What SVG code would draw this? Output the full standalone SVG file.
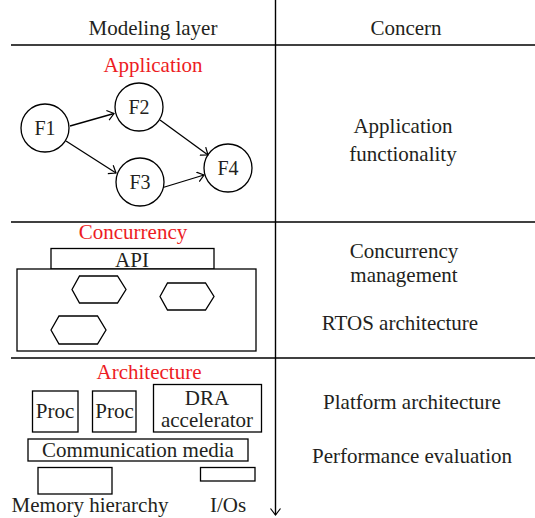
<svg xmlns="http://www.w3.org/2000/svg" width="535" height="518" viewBox="0 0 535 518">
  <defs>
    <marker id="vee" markerUnits="userSpaceOnUse" markerWidth="10" markerHeight="12" refX="7" refY="5.5" orient="auto">
      <path d="M0.5,0.5 L7,5.5 L0.5,10.5" fill="none" stroke="#000" stroke-width="1.2"/>
    </marker>
  </defs>
  <style>
    text { font-size: 21px; fill: #231f20; text-anchor: middle; }
    .title { fill: #ed1c24; }
    .rule { stroke: #000; stroke-width: 1.4; fill: none; }
    .shape { stroke: #000; stroke-width: 1.3; fill: #fff; }
    .fn { font-size: 20px; }
    .edge { stroke: #000; stroke-width: 1.3; fill: none; marker-end: url(#vee); }
  </style>

  <rect width="535" height="518" fill="#fff"/>

  <g font-family="Liberation Serif, serif">
  <!-- table frame: header, row separators and the downward axis -->
  <g id="table">
    <line class="rule" x1="11" y1="45" x2="535" y2="45"/>
    <line class="rule" x1="11" y1="222" x2="535" y2="222"/>
    <line class="rule" x1="11" y1="358" x2="535" y2="358"/>
    <line class="rule" x1="275.5" y1="0" x2="275.5" y2="515" marker-end="url(#vee)"/>
    <text x="153" y="35">Modeling layer</text>
    <text x="406" y="35">Concern</text>
  </g>

  <!-- application layer -->
  <g id="application">
    <text class="title" x="153" y="72">Application</text>
    <g id="f1"><circle class="shape" cx="45" cy="128" r="24"/><text class="fn" x="45" y="135">F1</text></g>
    <g id="f2"><circle class="shape" cx="139" cy="107" r="24"/><text class="fn" x="139" y="114">F2</text></g>
    <g id="f3"><circle class="shape" cx="140" cy="182" r="24"/><text class="fn" x="140" y="189">F3</text></g>
    <g id="f4"><circle class="shape" cx="228" cy="168" r="24"/><text class="fn" x="228" y="175">F4</text></g>
  </g>

  <g id="connectors">
    <line class="edge" x1="70" y1="126" x2="114" y2="113.5"/>
    <line class="edge" x1="66" y1="141" x2="116" y2="173"/>
    <line class="edge" x1="160" y1="120" x2="208" y2="155"/>
    <line class="edge" x1="163" y1="187.5" x2="204" y2="175"/>
  </g>

  <!-- concurrency layer -->
  <g id="concurrency">
    <text class="title" x="133" y="239">Concurrency</text>
    <g id="api">
      <rect class="shape" x="51" y="248.5" width="163" height="20.5"/>
      <text x="132" y="267">API</text>
    </g>
    <g id="rtos">
      <rect class="shape" x="17" y="269" width="239" height="82"/>
      <polygon class="shape" points="72,289.5 79.5,276 117.5,276 126,289.5 117.5,303 79.5,303"/>
      <polygon class="shape" points="160,296.5 167.5,283 205.5,283 214,296.5 205.5,310 167.5,310"/>
      <polygon class="shape" points="51,330 59,316 97.5,316 106,330 97.5,344 59,344"/>
    </g>
  </g>

  <!-- architecture layer -->
  <g id="architecture">
    <text class="title" x="149" y="379">Architecture</text>
    <g id="proc1">
      <rect class="shape" x="32.5" y="391" width="45.5" height="41"/>
      <text x="55" y="418">Proc</text>
    </g>
    <g id="proc2">
      <rect class="shape" x="92.5" y="391" width="43.5" height="41"/>
      <text x="114.5" y="418">Proc</text>
    </g>
    <g id="dra">
      <rect class="shape" x="153.5" y="384.5" width="108" height="47.5"/>
      <text x="207" y="405">DRA</text>
      <text x="207" y="427">accelerator</text>
    </g>
    <g id="comm">
      <rect class="shape" x="28" y="439" width="220" height="22"/>
      <text x="138" y="457">Communication media</text>
    </g>
    <g id="memory">
      <rect class="shape" x="38" y="467.5" width="74" height="26.5"/>
      <text x="90" y="512">Memory hierarchy</text>
    </g>
    <g id="ios">
      <rect class="shape" x="200.5" y="467.5" width="54.5" height="13.5"/>
      <text x="228" y="512">I/Os</text>
    </g>
  </g>

  <!-- concern column -->
  <g id="concerns">
    <text x="403" y="133">Application</text>
    <text x="403" y="161">functionality</text>
    <text x="404" y="258">Concurrency</text>
    <text x="404" y="282">management</text>
    <text x="400" y="330">RTOS architecture</text>
    <text x="412" y="409">Platform architecture</text>
    <text x="412" y="463">Performance evaluation</text>
  </g>
  </g>
</svg>
